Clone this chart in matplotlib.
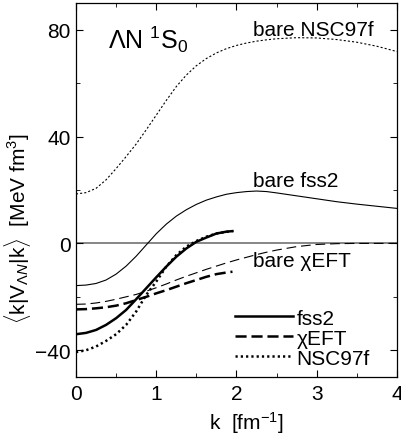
import matplotlib
matplotlib.use('Agg')
import matplotlib.pyplot as plt
from matplotlib.ticker import MultipleLocator

plt.rcParams['font.family'] = ['Liberation Sans', 'DejaVu Sans']
plt.rcParams['mathtext.fontset'] = 'custom'
plt.rcParams['mathtext.rm'] = 'Liberation Sans'
plt.rcParams['mathtext.it'] = 'Liberation Sans:italic'
plt.rcParams['mathtext.sf'] = 'Liberation Sans'
plt.rcParams['lines.scale_dashes'] = False

# bare potentials, k = 0 .. 4 fm^-1
k_bare = [0, 0.125, 0.25, 0.375, 0.5, 0.625, 0.75, 0.875, 1.0, 1.125, 1.25, 1.375,
          1.5, 1.625, 1.75, 1.875, 2.0, 2.125, 2.25, 2.375, 2.5, 2.75, 3.0, 3.25,
          3.5, 3.75, 4.0]
bare_fss2 = [-15.8, -15.6, -15.0, -13.7, -11.5, -8.5, -4.8, -0.6, 3.6, 7.2, 10.2, 12.6,
             14.6, 16.2, 17.4, 18.4, 19.0, 19.4, 19.6, 19.4, 18.9, 17.8, 16.7, 15.6,
             14.7, 13.9, 13.1]
bare_chieft = [-22.8, -22.7, -22.3, -21.7, -20.9, -20.0, -19.1, -17.9, -16.6, -15.2, -13.7, -12.3,
               -11.0, -9.7, -8.5, -7.3, -6.2, -5.2, -4.2, -3.3, -2.5, -1.2, -0.4, -0.1,
               0.0, 0.0, 0.0]
bare_nsc97f = [18.5, 19.0, 20.6, 23.8, 28.0, 32.5, 37.2, 42.5, 48.0, 53.5, 58.7, 63.0,
               66.5, 69.2, 71.3, 72.9, 74.1, 75.0, 75.7, 76.2, 76.6, 77.0, 76.9, 76.3,
               75.3, 73.8, 71.8]

# low-momentum potentials, k = 0 .. 1.95 fm^-1
k_low = [0, 0.125, 0.25, 0.375, 0.5, 0.625, 0.75, 0.875, 1.0, 1.125, 1.25, 1.375,
         1.5, 1.625, 1.75, 1.875, 1.95]
fss2 = [-34.0, -33.5, -32.4, -30.5, -28.0, -24.9, -20.9, -16.8, -12.7, -8.7, -5.0, -1.9,
        0.6, 2.2, 3.7, 4.4, 4.6]
chieft = [-24.7, -24.6, -24.3, -23.9, -23.3, -22.4, -21.2, -20.0, -18.7, -17.5, -16.2, -14.9,
          -13.7, -12.5, -11.5, -10.9, -10.6]
nsc97f = [-40.7, -40.0, -38.6, -36.5, -34.0, -30.5, -25.5, -19.3, -14.3, -8.7, -4.4, -1.2,
          0.9, 2.5, 3.7, 4.3, 4.6]

fig = plt.figure(figsize=(4.02, 4.39), dpi=100)
ax = fig.add_axes([0.189, 0.139, 0.7985, 0.852])

ax.axhline(0, color='0.4', lw=1.1, zorder=1)

ax.plot(k_bare, bare_fss2, color='k', lw=0.8)
ax.plot(k_bare, bare_chieft, color='k', lw=0.8, linestyle=(0, (7, 3.5)))
ax.plot(k_bare, bare_nsc97f, color='k', lw=0.8, linestyle=(0, (1.5, 1.5)))

ax.plot(k_low, fss2, color='k', lw=1.8, label='fss2')
ax.plot(k_low, chieft, color='k', lw=1.8, linestyle=(0, (8, 3.5)), label='χEFT')
ax.plot(k_low, nsc97f, color='k', lw=1.8, linestyle=(0, (1.6, 2.2)), label='NSC97f')

ax.text(2.2, 80, 'bare NSC97f', fontsize=15, va='center')
ax.text(2.2, 23.5, 'bare fss2', fontsize=15, va='center')
ax.text(2.2, -6.4, 'bare χEFT', fontsize=15, va='center')
ax.text(0.4, 76.5, r'$\Lambda$N $^1$S$_0$', fontsize=18, va='center')

ax.set_xlim(0, 4)
ax.set_ylim(-50, 90)
ax.xaxis.set_major_locator(MultipleLocator(1))
ax.xaxis.set_minor_locator(MultipleLocator(0.5))
ax.yaxis.set_major_locator(MultipleLocator(40))
ax.yaxis.set_minor_locator(MultipleLocator(20))
ax.tick_params(which='both', direction='in', top=True, right=True, labelsize=15, pad=4)
ax.tick_params(axis='x', which='both', pad=5)
ax.tick_params(which='major', length=5)
ax.tick_params(which='minor', length=3)
for s in ax.spines.values():
    s.set_linewidth(0.9)

ax.set_xlabel(r'k  [fm$^{-1}$]', fontsize=15)
ax.xaxis.set_label_coords(0.53, -0.085)
ax.set_ylabel(r'$\langle$k|V$_{\Lambda N}$|k$\rangle$  [MeV fm$^3$]', fontsize=15)
ax.yaxis.set_label_coords(-0.135, 0.4)

ax.legend(loc='lower left', bbox_to_anchor=(0.495, 0.025), frameon=False, fontsize=15,
          handlelength=2.8, handletextpad=0.15, labelspacing=0.05, borderpad=0,
          borderaxespad=0)

fig.savefig('out.png', dpi=100)
